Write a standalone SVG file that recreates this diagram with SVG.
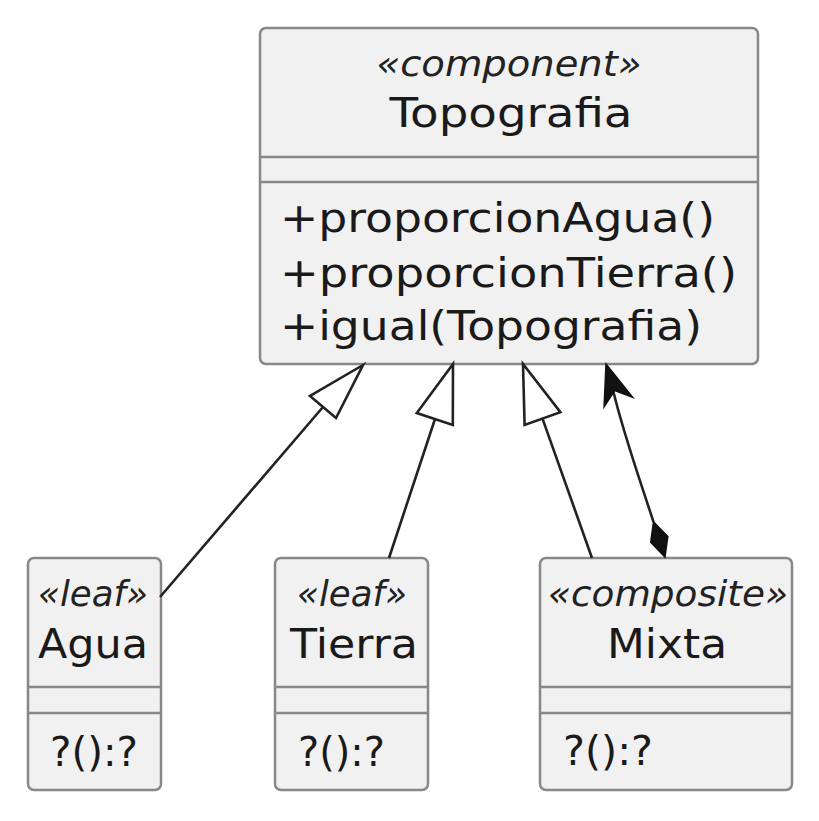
<svg xmlns="http://www.w3.org/2000/svg" width="819" height="821" viewBox="0 0 819 821">
<style>
.box{fill:#f1f1f1;stroke:#888;stroke-width:2.5}
.sep{stroke:#888;stroke-width:2.5}
.st{font-family:"DejaVu Sans",Verdana,sans-serif;font-style:italic;font-size:35px;fill:#222}
.nm{font-family:"DejaVu Sans",Verdana,sans-serif;font-size:41px;fill:#1a1a1a}
.mt{font-family:"DejaVu Sans",Verdana,sans-serif;font-size:40px;fill:#1a1a1a}
.ln{fill:none;stroke:#222;stroke-width:2.6}
.hollow{fill:#fff;stroke:#222;stroke-width:2.6;stroke-linejoin:miter}
.solid{fill:#111;stroke:#111;stroke-width:1.5;stroke-linejoin:miter}
</style>
<rect width="819" height="821" fill="#fff"/>
<g id="Topografia">
<rect class="box" x="260" y="28" width="498" height="336" rx="6"/>
<line class="sep" x1="260" y1="157" x2="758" y2="157"/>
<line class="sep" x1="260" y1="182" x2="758" y2="182"/>
<text class="st" x="509" y="76" text-anchor="middle" textLength="265" lengthAdjust="spacingAndGlyphs">«component»</text>
<text class="nm" x="511" y="127" text-anchor="middle" textLength="243" lengthAdjust="spacingAndGlyphs">Topografia</text>
<text class="mt" x="280" y="232" textLength="435" lengthAdjust="spacingAndGlyphs">+proporcionAgua()</text>
<text class="mt" x="280" y="287" textLength="457" lengthAdjust="spacingAndGlyphs">+proporcionTierra()</text>
<text class="mt" x="280" y="340" textLength="422" lengthAdjust="spacingAndGlyphs">+igual(Topografia)</text>
</g>
<g id="Agua">
<rect class="box" x="28" y="558" width="133" height="232" rx="6"/>
<line class="sep" x1="28" y1="687" x2="161" y2="687"/>
<line class="sep" x1="28" y1="713" x2="161" y2="713"/>
<text class="st" x="93" y="606" text-anchor="middle" textLength="110" lengthAdjust="spacingAndGlyphs">«leaf»</text>
<text class="nm" x="93" y="658" text-anchor="middle" textLength="110" lengthAdjust="spacingAndGlyphs">Agua</text>
<text class="mt" x="50" y="766" textLength="88" lengthAdjust="spacingAndGlyphs">?():?</text>
</g>
<g id="Tierra">
<rect class="box" x="275" y="558" width="153" height="232" rx="6"/>
<line class="sep" x1="275" y1="687" x2="428" y2="687"/>
<line class="sep" x1="275" y1="713" x2="428" y2="713"/>
<text class="st" x="352" y="606" text-anchor="middle" textLength="110" lengthAdjust="spacingAndGlyphs">«leaf»</text>
<text class="nm" x="354" y="658" text-anchor="middle" textLength="128" lengthAdjust="spacingAndGlyphs">Tierra</text>
<text class="mt" x="298" y="766" textLength="87" lengthAdjust="spacingAndGlyphs">?():?</text>
</g>
<g id="Mixta">
<rect class="box" x="540" y="558" width="252" height="232" rx="6"/>
<line class="sep" x1="540" y1="687" x2="792" y2="687"/>
<line class="sep" x1="540" y1="713" x2="792" y2="713"/>
<text class="st" x="668" y="606" text-anchor="middle" textLength="240" lengthAdjust="spacingAndGlyphs">«composite»</text>
<text class="nm" x="667" y="658" text-anchor="middle" textLength="120" lengthAdjust="spacingAndGlyphs">Mixta</text>
<text class="mt" x="563" y="765" textLength="90" lengthAdjust="spacingAndGlyphs">?():?</text>
</g>
<g id="connectors">
<line class="ln" x1="160" y1="597" x2="323" y2="407"/>
<polygon class="hollow" points="363,365 310,396 336,418"/>
<line class="ln" x1="389" y1="558" x2="435" y2="419"/>
<polygon class="hollow" points="453,364 416.8,413 452.8,425"/>
<line class="ln" x1="592" y1="558" x2="542.5" y2="418.6"/>
<polygon class="hollow" points="523,364 524.6,425 560.4,412.2"/>
<path class="ln" d="M653.5,522 C642,486 624,436 613,390"/>
<polygon class="solid" points="606,364 632.7,397.4 614.7,390.6 604.1,406.7"/>
<polygon class="solid" points="665,557 667.8,536.6 653.5,521.8 650.7,542.2"/>
</g>
</svg>
